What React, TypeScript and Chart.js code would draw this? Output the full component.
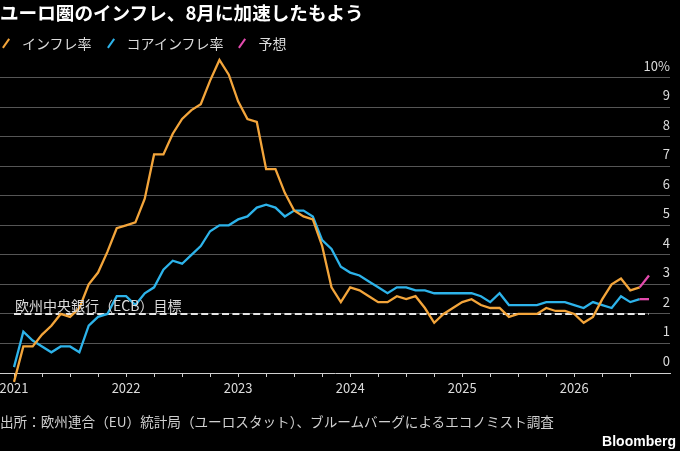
import React, { useEffect, useRef } from 'react';
import { Chart, registerables } from 'chart.js';

Chart.register(...registerables);

// ---- text ----
const TITLE = 'ユーロ圏のインフレ、8月に加速したもよう';
const SERIES_LABELS = ['インフレ率', 'コアインフレ率', '予想'];
const TARGET_LABEL = '欧州中央銀行（ECB）目標';
const SOURCE = '出所：欧州連合（EU）統計局（ユーロスタット）、ブルームバーグによるエコノミスト調査';
const BRAND = 'Bloomberg';

// ---- data (monthly, first point = start of 2021 tick) ----
const START_YEAR = 2021;
const HEADLINE = [
  -0.3, 0.9, 0.9, 1.3, 1.6, 2.0, 1.9, 2.2, 3.0, 3.4, 4.1, 4.9,
  5.0, 5.1, 5.9, 7.4, 7.4, 8.1, 8.6, 8.9, 9.1, 9.9, 10.6, 10.1,
  9.2, 8.6, 8.5, 6.9, 6.9, 6.1, 5.5, 5.3, 5.2, 4.3, 2.9, 2.4,
  2.9, 2.8, 2.6, 2.4, 2.4, 2.6, 2.5, 2.6, 2.2, 1.7, 2.0, 2.2,
  2.4, 2.5, 2.3, 2.2, 2.2, 1.9, 2.0, 2.0, 2.0, 2.2, 2.1, 2.1,
  2.0, 1.7, 1.9, 2.5, 3.0, 3.2, 2.8, 2.9,
];
const CORE = [
  0.2, 1.4, 1.1, 0.9, 0.7, 0.9, 0.9, 0.7, 1.6, 1.9, 2.0, 2.6,
  2.6, 2.3, 2.7, 2.9, 3.5, 3.8, 3.7, 4.0, 4.3, 4.8, 5.0, 5.0,
  5.2, 5.3, 5.6, 5.7, 5.6, 5.3, 5.5, 5.5, 5.3, 4.5, 4.2, 3.6,
  3.4, 3.3, 3.1, 2.9, 2.7, 2.9, 2.9, 2.8, 2.8, 2.7, 2.7, 2.7,
  2.7, 2.7, 2.6, 2.4, 2.7, 2.3, 2.3, 2.3, 2.3, 2.4, 2.4, 2.4,
  2.3, 2.2, 2.4, 2.3, 2.2, 2.6, 2.4, 2.5,
];
const FORECAST_HEADLINE = [3.3];
const FORECAST_CORE = [2.5];
const TARGET = 2;
const Y_TICKS = [0, 1, 2, 3, 4, 5, 6, 7, 8, 9, 10];
const X_TICK_MONTHS = [0, 3, 6, 9, 12, 15, 18, 21, 24, 27, 30, 33, 36, 39, 42, 45, 48, 51, 54, 57, 60, 63, 66];

// ---- style ----
const ORANGE = '#F3A53B';
const BLUE = '#2DB3EA';
const PINK = '#E34BAE';
const FONT = "'Noto Sans CJK JP', 'Noto Sans', sans-serif";

function pts(values: number[], start: number) {
  return values.map((y, i) => ({ x: start + i, y }));
}

export default function App() {
  const ref = useRef<HTMLCanvasElement | null>(null);

  useEffect(() => {
    if (!ref.current) return;
    Chart.defaults.font.family = FONT;
    const last = HEADLINE.length - 1;
    const chart = new Chart(ref.current, {
      type: 'line',
      data: {
        datasets: [
          {
            label: SERIES_LABELS[2],
            data: [{ x: last, y: HEADLINE[last] }, ...pts(FORECAST_HEADLINE, last + 1)],
            borderColor: PINK,
            borderWidth: 2.3,
            pointRadius: 0,
            clip: false as any,
          },
          {
            label: SERIES_LABELS[2] + ' core',
            data: [{ x: last, y: CORE[last] }, ...pts(FORECAST_CORE, last + 1)],
            borderColor: PINK,
            borderWidth: 2.3,
            pointRadius: 0,
            clip: false as any,
          },
          {
            label: SERIES_LABELS[0],
            data: pts(HEADLINE, 0),
            borderColor: ORANGE,
            borderWidth: 2.3,
            pointRadius: 0,
            clip: false as any,
          },
          {
            label: SERIES_LABELS[1],
            data: pts(CORE, 0),
            borderColor: BLUE,
            borderWidth: 2.3,
            pointRadius: 0,
            clip: false as any,
          },
          {
            label: TARGET_LABEL,
            data: [{ x: 0, y: TARGET }, { x: last + FORECAST_HEADLINE.length, y: TARGET }],
            borderColor: '#e6e6e6',
            borderWidth: 2,
            borderDash: [7, 3.4],
            pointRadius: 0,
          },
        ],
      },
      options: {
        animation: false,
        responsive: false,
        parsing: false as any,
        layout: { padding: { left: 0, right: 10, top: 54, bottom: 48 } },
        plugins: {
          legend: { display: false },
          tooltip: { enabled: false },
          title: { display: false },
        },
        elements: { line: { tension: 0 } },
        scales: {
          x: {
            type: 'linear',
            min: -1.5,
            max: 70.25,
            afterBuildTicks: (s: any) => {
              s.ticks = X_TICK_MONTHS.map((value) => ({ value }));
            },
            afterFit: (s: any) => {
              s.height = 30;
              s.paddingLeft = 0;
              s.paddingRight = 0;
            },
            grid: { drawOnChartArea: false, drawTicks: true, tickLength: 4, color: '#cfcfcf', lineWidth: 1 },
            border: { display: true, color: '#cfcfcf', width: 1 },
            ticks: {
              autoSkip: false,
              maxRotation: 0,
              padding: 3,
              color: '#dcdcdc',
              font: { size: 13, family: FONT },
              callback: (v: any) => (Number(v) % 12 === 0 ? String(START_YEAR + Number(v) / 12) : ''),
            },
          },
          y: {
            type: 'linear',
            position: 'right',
            min: 0,
            max: 10.8,
            afterBuildTicks: (s: any) => {
              s.ticks = Y_TICKS.map((value) => ({ value }));
            },
            afterFit: (s: any) => {
              s.width = 0;
              s.paddingTop = 0;
              s.paddingBottom = 0;
            },
            grid: {
              drawTicks: false,
              lineWidth: 1,
              color: (c: any) => (c.tick && c.tick.value === 0 ? 'rgba(0,0,0,0)' : '#555555'),
            },
            border: { display: false },
            ticks: {
              mirror: true,
              padding: 0,
              labelOffset: -12,
              color: '#dcdcdc',
              font: { size: 13, family: FONT },
              callback: (v: any) => (Number(v) === 10 ? '10%' : String(v)),
            },
          },
        },
      },
    });
    return () => chart.destroy();
  }, []);

  const legendItems = [
    { label: SERIES_LABELS[0], color: ORANGE },
    { label: SERIES_LABELS[1], color: BLUE },
    { label: SERIES_LABELS[2], color: PINK },
  ];

  return (
    <div
      style={{
        position: 'fixed',
        left: 0,
        top: 0,
        width: 680,
        height: 451,
        background: '#000',
        fontFamily: FONT,
        overflow: 'hidden',
      }}
    >
      <canvas ref={ref} width={680} height={451} style={{ position: 'absolute', left: 0, top: 0 }} />
      <div
        style={{
          position: 'absolute',
          left: 0,
          top: 3,
          fontSize: 18.6,
          lineHeight: '18px',
          fontWeight: 700,
          color: '#fff',
          whiteSpace: 'nowrap',
        }}
      >
        {TITLE}
      </div>
      <div
        style={{
          position: 'absolute',
          left: 2,
          top: 36,
          display: 'flex',
          alignItems: 'center',
          fontSize: 14,
          lineHeight: '14px',
          color: '#dcdcdc',
          whiteSpace: 'nowrap',
        }}
      >
        {legendItems.map((it) => (
          <div key={it.label} style={{ display: 'flex', alignItems: 'center', marginRight: 15 }}>
            <span
              style={{
                display: 'inline-block',
                width: 8,
                height: 14,
                position: 'relative',
                marginRight: 12,
              }}
            >
              <span
                style={{
                  position: 'absolute',
                  left: 3,
                  top: 1.5,
                  width: 2.4,
                  height: 11,
                  background: it.color,
                  transform: 'rotate(35deg)',
                }}
              />
            </span>
            <span>{it.label}</span>
          </div>
        ))}
      </div>
      <div
        style={{
          position: 'absolute',
          left: 15,
          top: 298,
          fontSize: 14,
          lineHeight: '14px',
          color: '#dcdcdc',
          whiteSpace: 'nowrap',
        }}
      >
        {TARGET_LABEL}
      </div>
      <div
        style={{
          position: 'absolute',
          left: 0,
          top: 414,
          fontSize: 13.6,
          lineHeight: '14px',
          color: '#d0d0d0',
          whiteSpace: 'nowrap',
        }}
      >
        {SOURCE}
      </div>
      <div
        style={{
          position: 'absolute',
          right: 4,
          top: 434,
          fontSize: 14,
          lineHeight: '14px',
          fontWeight: 700,
          color: '#fff',
          fontFamily: "'Liberation Sans', 'Noto Sans', sans-serif",
        }}
      >
        {BRAND}
      </div>
    </div>
  );
}
